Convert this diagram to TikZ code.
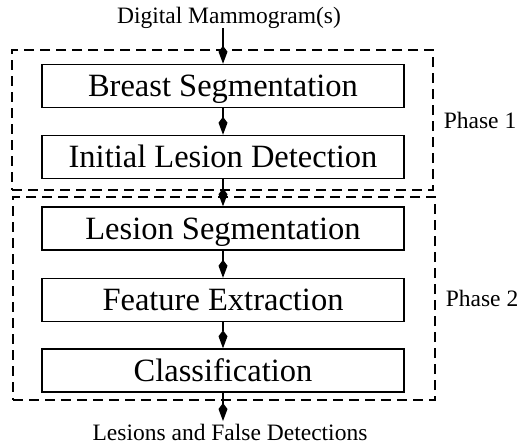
\documentclass[tikz,border=0pt]{standalone}
\usepackage{fontspec}
\setmainfont{Liberation Serif}
\usetikzlibrary{arrows.meta}
\begin{document}
\begin{tikzpicture}[x=1pt,y=-1pt,
  stage/.style={draw, line width=1.5pt, minimum width=362pt, minimum height=43pt,
    inner sep=0pt, text height=24pt, text depth=3pt,
    font=\fontsize{32.5}{36}\selectfont},
  phasebox/.style={draw, line width=1.3pt, dash pattern=on 10pt off 6pt, inner sep=0pt},
  caption/.style={font=\fontsize{23.5}{26}\selectfont, inner sep=0pt},
  flow/.style={line width=1.4pt, -{Kite[length=18pt,width=9pt,inset=6pt]}}]
\useasboundingbox (0,0) rectangle (520,445);

% phase frames
\node[phasebox, minimum width=421pt, minimum height=140pt] (p1) at (222.5,120) {};
\node[phasebox, minimum width=422pt, minimum height=203pt] (p2) at (224,298.5) {};
\node[caption, anchor=west] (l1) at ([xshift=10pt]p1.east) {Phase 1};
\node[caption, anchor=west] (l2) at ([xshift=10pt]p2.east) {Phase 2};

% processing stages
\node[stage] (b1) at (223,86) {Breast Segmentation};
\node[stage] (b2) at (223,157) {Initial Lesion Detection};
\node[stage] (b3) at (223,228.5) {Lesion Segmentation};
\node[stage] (b4) at (223,300) {Feature Extraction};
\node[stage] (b5) at (223,370.5) {Classification};

% input and output
\node[caption, anchor=base] (input) at (229,23) {Digital Mammogram(s)};
\node[caption, anchor=base] (result) at (230,440) {Lesions and False Detections};
\coordinate (out) at (223,421);

% flow
\draw[flow] (input.south -| b1.north) -- (b1.north);
\draw[flow] (b1) -- (b2);
\draw[flow] (b2) -- (b3);
\draw[flow] (b3) -- (b4);
\draw[flow] (b4) -- (b5);
\draw[flow] (b5) -- (out);
\end{tikzpicture}
\end{document}
